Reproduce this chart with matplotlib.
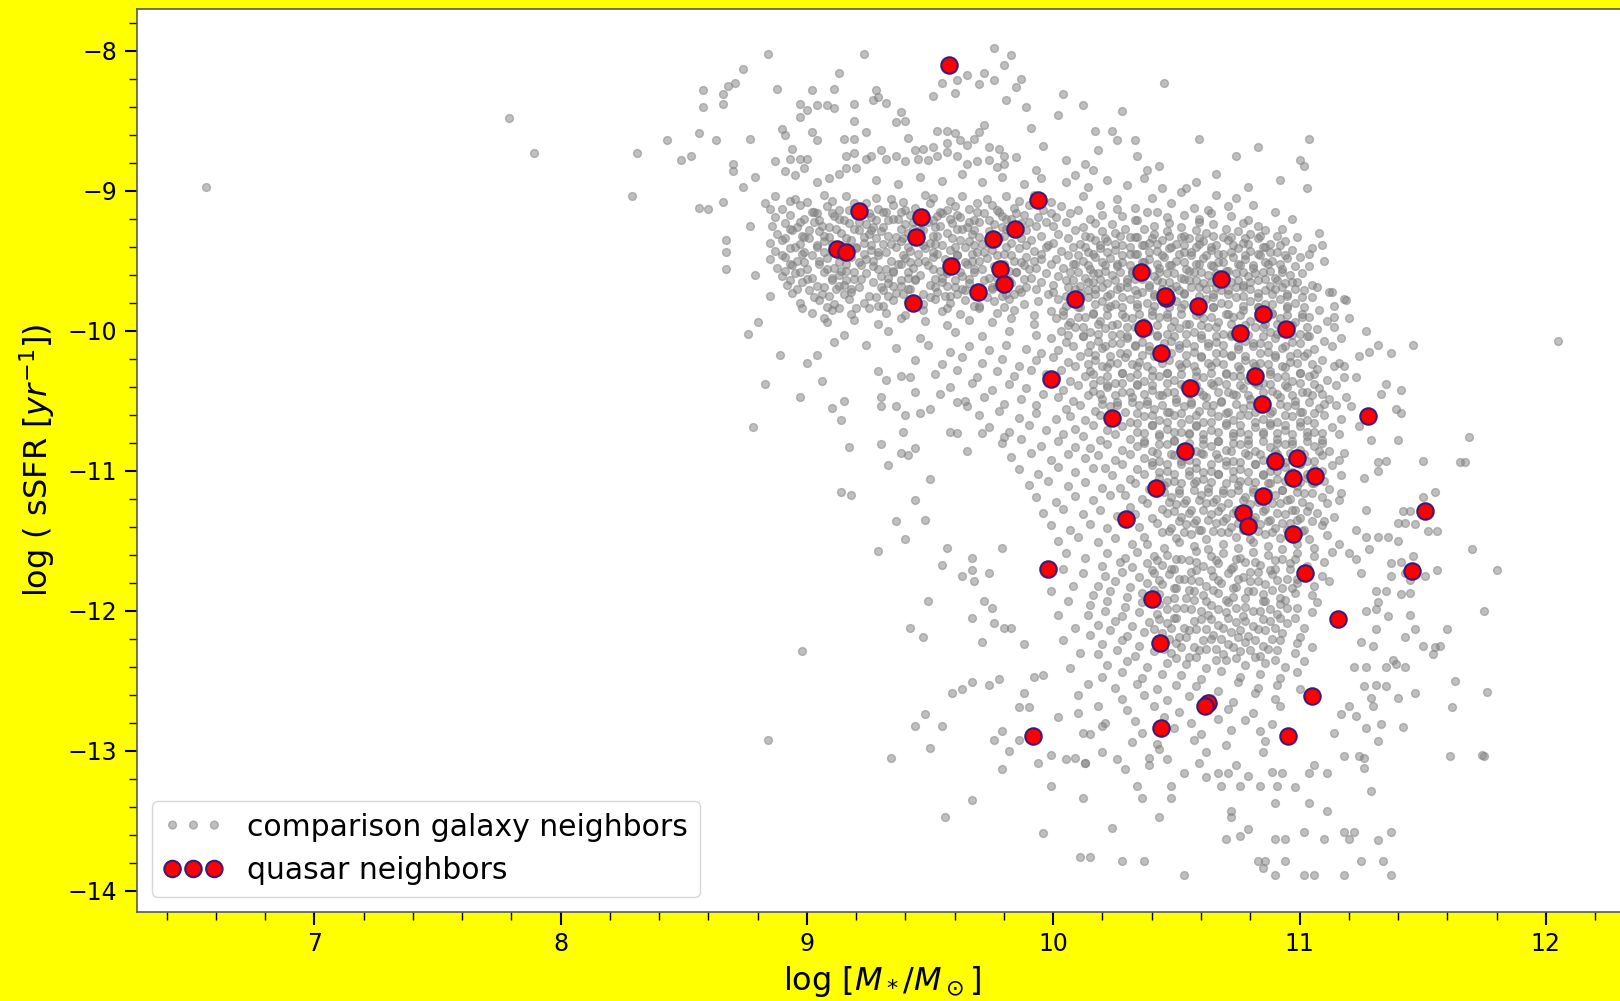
import matplotlib
matplotlib.use("Agg")
import matplotlib.pyplot as plt
from matplotlib.ticker import MultipleLocator
import numpy as np

# quasar neighbours: log stellar mass, log sSFR
qso_mass = [9.578, 9.937, 9.212, 9.463, 9.843, 9.443, 9.754, 9.124, 9.158, 9.585,
            9.782, 9.802, 9.694, 9.429, 10.087, 10.357, 10.683, 10.459, 10.455, 10.588,
            10.852, 10.364, 10.757, 10.947, 10.439, 9.992, 10.818, 10.554, 10.846, 10.240,
            11.279, 10.534, 10.900, 10.988, 10.974, 11.062, 10.419, 10.852, 10.297, 10.771,
            10.791, 10.974, 11.509, 9.978, 11.022, 11.455, 10.399, 11.157, 10.432, 11.049,
            10.629, 10.615, 10.439, 10.954, 9.917]
qso_ssfr = [-8.102, -9.067, -9.145, -9.186, -9.276, -9.328, -9.348, -9.419, -9.436, -9.538,
            -9.562, -9.669, -9.721, -9.800, -9.776, -9.578, -9.633, -9.769, -9.750, -9.823,
            -9.883, -9.983, -10.019, -9.990, -10.157, -10.347, -10.323, -10.407, -10.526, -10.621,
            -10.609, -10.859, -10.931, -10.907, -11.050, -11.038, -11.121, -11.181, -11.347, -11.300,
            -11.395, -11.455, -11.288, -11.705, -11.728, -11.716, -11.919, -12.062, -12.229, -12.609,
            -12.657, -12.681, -12.836, -12.895, -12.895]

# comparison galaxy neighbours, (mass, sSFR) pairs grouped by part of the cloud
gal_outliers = [
    (6.56, -8.97), (7.79, -8.48), (7.89, -8.73), (8.31, -8.73), (8.43, -8.64), (8.49, -8.78),
    (8.53, -8.75), (8.29, -9.04), (8.56, -8.59), (8.56, -9.12), (8.60, -9.13), (12.05, -10.07),
    (8.84, -12.92), (8.98, -12.29), (8.78, -10.69),
]

gal_halo = [
    (8.84, -8.02), (9.23, -8.02), (9.76, -7.98), (9.80, -8.10), (9.72, -8.16), (9.65, -8.17),
    (9.61, -8.21), (9.55, -8.23), (9.60, -8.30), (9.51, -8.32), (9.70, -8.24), (9.76, -8.21),
    (9.81, -8.35), (9.85, -8.26), (9.83, -8.03), (9.87, -8.20), (8.74, -8.13), (9.13, -8.16),
    (8.68, -8.25), (8.71, -8.23), (8.58, -8.28), (8.66, -8.31), (8.66, -8.38), (8.58, -8.40),
    (8.88, -8.27), (9.02, -8.28), (9.11, -8.27), (9.28, -8.28), (9.29, -8.33), (9.27, -8.35),
    (9.32, -8.37), (8.97, -8.38), (9.00, -8.42), (8.97, -8.47), (9.04, -8.39), (9.08, -8.39),
    (9.11, -8.41), (9.19, -8.38), (9.19, -8.50), (9.38, -8.44), (9.36, -8.51), (9.40, -8.50),
    (9.41, -8.62), (9.72, -8.53), (9.70, -8.58), (9.53, -8.57), (9.57, -8.57), (9.60, -8.59),
    (9.62, -8.64), (9.57, -8.66), (9.65, -8.67), (9.68, -8.63), (9.74, -8.69), (9.78, -8.70),
    (9.80, -8.75), (9.44, -8.71), (9.47, -8.70), (9.51, -8.69), (9.36, -8.75), (9.40, -8.79),
    (9.45, -8.77), (9.49, -8.78), (9.53, -8.75), (9.57, -8.72), (9.61, -8.75), (9.65, -8.81),
    (9.69, -8.79), (9.74, -8.78), (9.77, -8.83), (9.80, -8.81), (9.85, -8.76), (8.90, -8.56),
    (8.91, -8.60), (9.02, -8.58), (9.04, -8.64), (9.15, -8.63), (9.19, -8.63), (9.24, -8.58),
    (9.16, -8.75), (9.19, -8.73), (9.16, -8.84), (9.20, -8.84), (9.24, -8.77), (9.26, -8.75),
    (9.30, -8.71), (9.32, -8.77), (8.77, -8.63), (8.63, -8.64), (8.70, -8.81), (8.70, -8.86),
    (8.79, -8.90), (8.87, -8.79), (8.94, -8.70), (8.93, -8.77), (8.97, -8.77), (9.00, -8.77),
    (8.91, -8.86), (8.95, -8.89), (8.99, -8.84), (9.04, -8.94), (9.09, -8.91), (9.13, -8.88),
    (8.74, -8.97), (8.66, -9.08), (8.87, -9.04), (8.83, -9.09), (8.85, -9.13), (8.93, -9.07),
    (9.28, -8.92), (9.37, -8.95), (9.46, -8.90), (9.55, -8.93), (9.63, -8.88), (9.71, -8.94),
    (9.79, -8.90), (9.88, -8.95), (9.95, -8.91),
    (10.04, -8.31), (10.12, -8.39), (10.28, -8.43), (10.17, -8.57), (10.24, -8.57), (10.26, -8.64),
    (10.33, -8.64), (10.34, -8.75), (10.45, -8.23), (10.43, -8.82), (10.38, -8.85), (10.18, -8.71),
    (10.13, -8.81), (10.16, -8.85), (10.05, -8.78), (10.09, -8.89), (9.91, -8.55), (9.96, -8.68),
    (10.02, -8.46), (9.93, -8.85), (9.89, -8.40), (10.59, -8.63), (10.74, -8.75), (10.83, -8.69),
    (10.92, -8.92), (11.02, -8.82), (11.04, -8.63), (10.54, -8.98), (10.66, -8.88), (10.79, -8.97),
    (11.00, -8.78), (11.03, -8.98), (10.05, -8.94), (10.14, -8.97), (10.22, -8.92), (10.30, -8.96),
    (10.37, -8.91), (10.44, -8.98), (10.52, -9.01), (10.58, -8.94), (10.66, -9.03), (10.74, -9.05),
    (10.12, -9.04), (10.26, -9.06), (10.40, -9.05), (10.81, -9.10), (10.90, -9.15), (10.97, -9.20),
    (10.93, -9.27), (10.99, -9.33), (11.05, -9.41), (11.10, -9.50), (11.08, -9.30), (11.09, -9.39),
    (11.04, -9.45), (11.04, -9.54),
]

gal_band = [
    (8.95, -9.06), (9.00, -9.08), (9.07, -9.03), (9.10, -9.07), (9.16, -9.04), (9.24, -9.09),
    (9.28, -9.05), (9.34, -9.06), (9.39, -9.08), (9.48, -9.03), (9.51, -9.05), (9.58, -9.07),
    (9.63, -9.04), (9.69, -9.09), (9.73, -9.06), (9.81, -9.04), (9.86, -9.07), (9.92, -9.03),
    (9.99, -9.08),
    (8.90, -9.13), (8.97, -9.10), (9.02, -9.15), (9.08, -9.11), (9.13, -9.14), (9.19, -9.09),
    (9.22, -9.12), (9.29, -9.13), (9.35, -9.10), (9.38, -9.15), (9.44, -9.12), (9.50, -9.09),
    (9.57, -9.14), (9.60, -9.11), (9.66, -9.13), (9.75, -9.10), (9.78, -9.15), (9.84, -9.12),
    (9.90, -9.10), (9.96, -9.14),
    (8.87, -9.19), (8.93, -9.17), (8.99, -9.20), (9.04, -9.16), (9.11, -9.18), (9.15, -9.21),
    (9.20, -9.17), (9.26, -9.19), (9.31, -9.15), (9.37, -9.20), (9.42, -9.17), (9.46, -9.21),
    (9.53, -9.18), (9.55, -9.16), (9.62, -9.19), (9.68, -9.21), (9.72, -9.16), (9.79, -9.18),
    (9.83, -9.20), (9.88, -9.17), (9.94, -9.19), (9.99, -9.16),
    (8.86, -9.25), (8.91, -9.23), (8.96, -9.26), (9.03, -9.22), (9.06, -9.25), (9.12, -9.27),
    (9.17, -9.23), (9.24, -9.24), (9.27, -9.26), (9.33, -9.21), (9.40, -9.24), (9.43, -9.27),
    (9.49, -9.22), (9.54, -9.25), (9.59, -9.23), (9.65, -9.26), (9.70, -9.22), (9.76, -9.24),
    (9.81, -9.27), (9.87, -9.23), (9.93, -9.25), (9.97, -9.22),
    (8.88, -9.31), (8.94, -9.28), (8.98, -9.32), (9.05, -9.29), (9.09, -9.33), (9.14, -9.30),
    (9.21, -9.28), (9.25, -9.31), (9.30, -9.29), (9.36, -9.33), (9.41, -9.30), (9.47, -9.28),
    (9.51, -9.32), (9.57, -9.30), (9.61, -9.27), (9.67, -9.31), (9.74, -9.29), (9.77, -9.33),
    (9.85, -9.30), (9.89, -9.28), (9.95, -9.32),
    (8.85, -9.37), (8.90, -9.35), (8.97, -9.38), (9.01, -9.34), (9.07, -9.36), (9.12, -9.39),
    (9.18, -9.35), (9.23, -9.37), (9.28, -9.34), (9.34, -9.38), (9.38, -9.36), (9.45, -9.33),
    (9.50, -9.37), (9.55, -9.39), (9.62, -9.35), (9.66, -9.36), (9.71, -9.38), (9.78, -9.34),
    (9.83, -9.37), (9.91, -9.35), (9.98, -9.39),
    (8.87, -9.43), (8.93, -9.41), (8.99, -9.44), (9.04, -9.40), (9.10, -9.43), (9.15, -9.45),
    (9.20, -9.41), (9.26, -9.42), (9.32, -9.44), (9.36, -9.40), (9.42, -9.43), (9.48, -9.41),
    (9.53, -9.45), (9.58, -9.42), (9.64, -9.40), (9.69, -9.44), (9.75, -9.42), (9.80, -9.45),
    (9.86, -9.41), (9.92, -9.43), (9.97, -9.40),
    (8.85, -9.49), (8.91, -9.47), (8.96, -9.50), (9.02, -9.46), (9.08, -9.48), (9.13, -9.51),
    (9.18, -9.47), (9.24, -9.49), (9.29, -9.46), (9.34, -9.50), (9.40, -9.48), (9.45, -9.51),
    (9.51, -9.47), (9.56, -9.49), (9.61, -9.46), (9.67, -9.50), (9.73, -9.48), (9.77, -9.46),
    (9.84, -9.50), (9.89, -9.47), (9.95, -9.49),
    (8.88, -9.55), (8.94, -9.53), (9.00, -9.56), (9.05, -9.52), (9.11, -9.55), (9.16, -9.57),
    (9.22, -9.53), (9.27, -9.54), (9.32, -9.56), (9.38, -9.52), (9.43, -9.55), (9.49, -9.53),
    (9.54, -9.57), (9.59, -9.54), (9.65, -9.52), (9.71, -9.56), (9.76, -9.54), (9.82, -9.57),
    (9.88, -9.53), (9.93, -9.55), (9.99, -9.52),
    (8.90, -9.61), (8.95, -9.59), (9.02, -9.62), (9.07, -9.58), (9.13, -9.60), (9.19, -9.63),
    (9.24, -9.59), (9.30, -9.61), (9.35, -9.58), (9.41, -9.62), (9.46, -9.60), (9.52, -9.63),
    (9.57, -9.59), (9.63, -9.61), (9.68, -9.58), (9.74, -9.62), (9.79, -9.60), (9.85, -9.58),
    (9.91, -9.62), (9.97, -9.59),
    (8.92, -9.67), (8.98, -9.65), (9.04, -9.68), (9.10, -9.64), (9.15, -9.67), (9.21, -9.69),
    (9.27, -9.65), (9.33, -9.66), (9.38, -9.68), (9.44, -9.64), (9.50, -9.67), (9.55, -9.65),
    (9.60, -9.69), (9.66, -9.66), (9.72, -9.64), (9.77, -9.68), (9.83, -9.66), (9.89, -9.69),
    (9.95, -9.65),
    (8.94, -9.73), (9.01, -9.71), (9.06, -9.74), (9.12, -9.70), (9.18, -9.72), (9.25, -9.75),
    (9.31, -9.71), (9.36, -9.73), (9.42, -9.70), (9.47, -9.74), (9.53, -9.72), (9.58, -9.75),
    (9.64, -9.71), (9.70, -9.73), (9.75, -9.70), (9.81, -9.74), (9.87, -9.72), (9.93, -9.70),
    (9.98, -9.74),
    (8.97, -9.80), (9.05, -9.78), (9.11, -9.81), (9.17, -9.77), (9.23, -9.80), (9.29, -9.82),
    (9.35, -9.78), (9.41, -9.79), (9.47, -9.81), (9.52, -9.77), (9.58, -9.80), (9.64, -9.78),
    (9.70, -9.82), (9.76, -9.79), (9.82, -9.77), (9.88, -9.81), (9.94, -9.79),
    (9.02, -9.87), (9.10, -9.85), (9.18, -9.88), (9.25, -9.84), (9.32, -9.87), (9.40, -9.89),
    (9.47, -9.85), (9.55, -9.86), (9.62, -9.88), (9.70, -9.84), (9.77, -9.87), (9.84, -9.85),
    (9.92, -9.89), (9.99, -9.86),
    (9.08, -9.94), (9.19, -9.92), (9.29, -9.95), (9.38, -9.91), (9.48, -9.93), (9.57, -9.96),
    (9.66, -9.92), (9.75, -9.94), (9.83, -9.91), (9.92, -9.95),
    (9.15, -10.03), (9.33, -10.00), (9.46, -10.05), (9.60, -10.01), (9.71, -10.04), (9.82, -10.00),
    (9.93, -10.03),
]

# the densest part of the star-forming band, between the rows above
gal_band_fill = [
    (9.03, -9.15), (9.10, -9.16), (9.17, -9.14), (9.25, -9.16), (9.32, -9.15), (9.40, -9.14),
    (9.47, -9.16), (9.54, -9.15), (9.61, -9.17), (9.69, -9.15), (9.77, -9.14), (9.85, -9.16),
    (8.97, -9.22), (9.05, -9.21), (9.13, -9.20), (9.21, -9.22), (9.28, -9.21), (9.35, -9.20),
    (9.43, -9.22), (9.51, -9.21), (9.58, -9.20), (9.66, -9.22), (9.74, -9.21), (9.81, -9.20),
    (9.90, -9.22),
    (8.93, -9.27), (9.01, -9.28), (9.09, -9.26), (9.19, -9.27), (9.26, -9.28), (9.31, -9.26),
    (9.38, -9.27), (9.46, -9.28), (9.52, -9.26), (9.63, -9.27), (9.68, -9.28), (9.79, -9.26),
    (9.84, -9.27),
    (8.91, -9.34), (8.99, -9.33), (9.07, -9.32), (9.16, -9.34), (9.23, -9.33), (9.33, -9.32),
    (9.39, -9.34), (9.44, -9.33), (9.53, -9.32), (9.59, -9.34), (9.70, -9.33), (9.80, -9.32),
    (9.87, -9.34),
    (8.95, -9.40), (9.04, -9.39), (9.10, -9.38), (9.20, -9.40), (9.26, -9.39), (9.31, -9.38),
    (9.41, -9.40), (9.47, -9.39), (9.52, -9.38), (9.60, -9.40), (9.68, -9.39), (9.74, -9.38),
    (9.81, -9.40), (9.89, -9.39),
    (8.90, -9.46), (8.98, -9.45), (9.07, -9.44), (9.13, -9.46), (9.23, -9.45), (9.29, -9.44),
    (9.39, -9.46), (9.45, -9.45), (9.51, -9.44), (9.61, -9.46), (9.67, -9.45), (9.72, -9.44),
    (9.83, -9.46), (9.95, -9.45),
    (8.93, -9.52), (8.99, -9.51), (9.05, -9.50), (9.16, -9.52), (9.21, -9.51), (9.27, -9.50),
    (9.37, -9.52), (9.42, -9.51), (9.48, -9.50), (9.58, -9.52), (9.64, -9.51), (9.70, -9.50),
    (9.80, -9.52), (9.87, -9.51), (9.92, -9.50),
    (8.91, -9.57), (8.97, -9.58), (9.08, -9.56), (9.14, -9.57), (9.19, -9.58), (9.29, -9.56),
    (9.35, -9.57), (9.41, -9.58), (9.51, -9.56), (9.57, -9.57), (9.62, -9.58), (9.68, -9.56),
    (9.79, -9.57), (9.85, -9.58), (9.90, -9.56),
    (8.93, -9.64), (9.00, -9.63), (9.10, -9.62), (9.16, -9.64), (9.22, -9.63), (9.33, -9.62),
    (9.38, -9.64), (9.44, -9.63), (9.55, -9.62), (9.60, -9.64), (9.66, -9.63), (9.77, -9.62),
    (9.82, -9.64), (9.88, -9.63),
    (8.96, -9.70), (9.07, -9.69), (9.13, -9.68), (9.18, -9.70), (9.30, -9.69), (9.35, -9.68),
    (9.41, -9.70), (9.52, -9.69), (9.57, -9.68), (9.63, -9.70), (9.75, -9.69), (9.80, -9.68),
    (9.86, -9.70),
    (9.03, -9.76), (9.09, -9.75), (9.15, -9.74), (9.28, -9.76), (9.33, -9.75), (9.39, -9.74),
    (9.50, -9.76), (9.56, -9.75), (9.61, -9.74), (9.73, -9.76), (9.79, -9.75), (9.84, -9.74),
    (9.08, -9.83), (9.20, -9.84), (9.31, -9.82), (9.44, -9.83), (9.57, -9.84), (9.68, -9.82),
    (9.80, -9.83),
]

gal_core = [
    (10.03, -9.11), (10.10, -9.14), (10.19, -9.10), (10.26, -9.13), (10.33, -9.12), (10.42, -9.15),
    (10.48, -9.09), (10.57, -9.12), (10.63, -9.14), (10.71, -9.11),
    (10.01, -9.19), (10.07, -9.16), (10.15, -9.20), (10.20, -9.17), (10.28, -9.18), (10.33, -9.21),
    (10.38, -9.15), (10.46, -9.19), (10.53, -9.17), (10.59, -9.20), (10.64, -9.16), (10.72, -9.18),
    (10.79, -9.21),
    (10.00, -9.25), (10.05, -9.22), (10.12, -9.26), (10.17, -9.23), (10.24, -9.24), (10.29, -9.27),
    (10.34, -9.21), (10.41, -9.25), (10.47, -9.23), (10.52, -9.26), (10.59, -9.22), (10.65, -9.24),
    (10.70, -9.27), (10.77, -9.23), (10.83, -9.25),
    (10.02, -9.31), (10.09, -9.28), (10.13, -9.32), (10.20, -9.29), (10.25, -9.30), (10.31, -9.33),
    (10.37, -9.27), (10.41, -9.31), (10.46, -9.29), (10.53, -9.32), (10.58, -9.28), (10.62, -9.30),
    (10.69, -9.33), (10.75, -9.29), (10.80, -9.31), (10.86, -9.28), (10.91, -9.32),
    (10.00, -9.37), (10.06, -9.34), (10.11, -9.38), (10.17, -9.35), (10.22, -9.36), (10.28, -9.39),
    (10.33, -9.33), (10.39, -9.37), (10.44, -9.35), (10.50, -9.38), (10.55, -9.34), (10.61, -9.36),
    (10.66, -9.39), (10.71, -9.35), (10.77, -9.37), (10.83, -9.34), (10.88, -9.38), (10.94, -9.36),
    (10.03, -9.43), (10.08, -9.40), (10.14, -9.44), (10.19, -9.41), (10.25, -9.42), (10.31, -9.45),
    (10.36, -9.39), (10.42, -9.43), (10.47, -9.41), (10.53, -9.44), (10.58, -9.40), (10.64, -9.42),
    (10.69, -9.45), (10.75, -9.41), (10.80, -9.43), (10.86, -9.40), (10.91, -9.44), (10.97, -9.42),
    (10.01, -9.49), (10.06, -9.46), (10.12, -9.50), (10.17, -9.47), (10.23, -9.48), (10.28, -9.51),
    (10.34, -9.45), (10.39, -9.49), (10.45, -9.47), (10.50, -9.50), (10.56, -9.46), (10.61, -9.48),
    (10.67, -9.51), (10.73, -9.47), (10.78, -9.49), (10.84, -9.46), (10.89, -9.50), (10.95, -9.48),
    (11.00, -9.47),
    (10.04, -9.55), (10.09, -9.52), (10.15, -9.56), (10.21, -9.53), (10.26, -9.54), (10.32, -9.57),
    (10.37, -9.51), (10.43, -9.55), (10.48, -9.53), (10.54, -9.56), (10.59, -9.52), (10.65, -9.54),
    (10.70, -9.57), (10.76, -9.53), (10.81, -9.55), (10.87, -9.52), (10.93, -9.56), (10.98, -9.54),
    (10.02, -9.61), (10.07, -9.58), (10.13, -9.62), (10.18, -9.59), (10.24, -9.60), (10.30, -9.63),
    (10.35, -9.57), (10.41, -9.61), (10.46, -9.59), (10.52, -9.62), (10.57, -9.58), (10.63, -9.60),
    (10.68, -9.63), (10.74, -9.59), (10.79, -9.61), (10.85, -9.58), (10.90, -9.62), (10.96, -9.60),
    (11.01, -9.59),
    (10.00, -9.67), (10.05, -9.64), (10.11, -9.68), (10.16, -9.65), (10.22, -9.66), (10.27, -9.69),
    (10.33, -9.63), (10.39, -9.67), (10.44, -9.65), (10.50, -9.68), (10.55, -9.64), (10.61, -9.66),
    (10.66, -9.69), (10.72, -9.65), (10.77, -9.67), (10.83, -9.64), (10.88, -9.68), (10.94, -9.66),
    (10.99, -9.65), (11.05, -9.67),
    (10.00, -9.72), (10.06, -9.69), (10.11, -9.73), (10.17, -9.70), (10.23, -9.74), (10.30, -9.69),
    (10.36, -9.72), (10.41, -9.74), (10.48, -9.70), (10.53, -9.73), (10.59, -9.69), (10.65, -9.74),
    (10.71, -9.71), (10.77, -9.69), (10.83, -9.73), (10.90, -9.70), (10.95, -9.74), (11.02, -9.71),
    (11.07, -9.69),
    (10.02, -9.77), (10.08, -9.80), (10.14, -9.76), (10.20, -9.79), (10.25, -9.81), (10.31, -9.77),
    (10.38, -9.80), (10.44, -9.76), (10.50, -9.79), (10.57, -9.81), (10.62, -9.77), (10.68, -9.80),
    (10.74, -9.76), (10.80, -9.79), (10.86, -9.81), (10.92, -9.77), (10.98, -9.80), (11.05, -9.76),
    (10.04, -9.86), (10.10, -9.83), (10.16, -9.87), (10.22, -9.84), (10.28, -9.88), (10.34, -9.83),
    (10.40, -9.86), (10.46, -9.88), (10.52, -9.84), (10.59, -9.87), (10.65, -9.83), (10.71, -9.88),
    (10.77, -9.85), (10.83, -9.83), (10.89, -9.87), (10.95, -9.84), (11.01, -9.88), (11.08, -9.85),
    (10.01, -9.91), (10.07, -9.94), (10.13, -9.90), (10.19, -9.93), (10.26, -9.95), (10.32, -9.91),
    (10.37, -9.94), (10.43, -9.90), (10.49, -9.93), (10.55, -9.95), (10.61, -9.91), (10.67, -9.94),
    (10.73, -9.90), (10.80, -9.93), (10.86, -9.95), (10.92, -9.91), (10.98, -9.94), (11.04, -9.90),
    (11.11, -9.93),
    (10.03, -10.00), (10.09, -9.97), (10.15, -10.01), (10.21, -9.98), (10.27, -10.02), (10.33, -9.97),
    (10.39, -10.00), (10.46, -10.02), (10.51, -9.98), (10.57, -10.01), (10.63, -9.97), (10.69, -10.02),
    (10.75, -9.99), (10.82, -9.97), (10.88, -10.01), (10.94, -9.98), (11.00, -10.02), (11.07, -9.99),
    (11.14, -9.97),
    (9.99, -10.05), (10.05, -10.08), (10.12, -10.04), (10.18, -10.07), (10.24, -10.09), (10.30, -10.05),
    (10.36, -10.08), (10.42, -10.04), (10.48, -10.07), (10.54, -10.09), (10.60, -10.05), (10.66, -10.08),
    (10.72, -10.04), (10.78, -10.07), (10.84, -10.09), (10.90, -10.05), (10.97, -10.08), (11.03, -10.04),
    (11.10, -10.07), (11.17, -10.05),
    (10.02, -10.14), (10.08, -10.11), (10.14, -10.15), (10.20, -10.12), (10.27, -10.16), (10.33, -10.11),
    (10.39, -10.14), (10.45, -10.16), (10.51, -10.12), (10.57, -10.15), (10.63, -10.11), (10.69, -10.16),
    (10.75, -10.13), (10.81, -10.11), (10.87, -10.15), (10.93, -10.12), (10.99, -10.16), (11.06, -10.13),
    (11.13, -10.11),
    (10.00, -10.19), (10.06, -10.22), (10.11, -10.18), (10.17, -10.21), (10.23, -10.23), (10.29, -10.19),
    (10.35, -10.22), (10.41, -10.18), (10.47, -10.21), (10.54, -10.23), (10.60, -10.19), (10.66, -10.22),
    (10.72, -10.18), (10.78, -10.21), (10.84, -10.23), (10.90, -10.19), (10.96, -10.22), (11.02, -10.18),
    (11.09, -10.21), (11.16, -10.23),
    (10.03, -10.28), (10.09, -10.25), (10.15, -10.29), (10.22, -10.26), (10.28, -10.30), (10.34, -10.25),
    (10.40, -10.28), (10.46, -10.30), (10.52, -10.26), (10.58, -10.29), (10.64, -10.25), (10.70, -10.30),
    (10.76, -10.27), (10.82, -10.25), (10.88, -10.29), (10.94, -10.26), (11.00, -10.30), (11.07, -10.27),
    (11.14, -10.25),
    (10.01, -10.33), (10.07, -10.36), (10.13, -10.32), (10.19, -10.35), (10.25, -10.37), (10.31, -10.33),
    (10.37, -10.36), (10.43, -10.32), (10.49, -10.35), (10.55, -10.37), (10.61, -10.33), (10.67, -10.36),
    (10.73, -10.32), (10.79, -10.35), (10.85, -10.37), (10.91, -10.33), (10.97, -10.36), (11.04, -10.32),
    (11.11, -10.35), (11.18, -10.33),
    (10.04, -10.42), (10.10, -10.39), (10.16, -10.43), (10.22, -10.40), (10.28, -10.44), (10.34, -10.39),
    (10.40, -10.42), (10.46, -10.44), (10.53, -10.40), (10.59, -10.43), (10.65, -10.39), (10.71, -10.44),
    (10.77, -10.41), (10.83, -10.39), (10.89, -10.43), (10.95, -10.40), (11.01, -10.44), (11.08, -10.41),
    (11.15, -10.39),
    (10.02, -10.47), (10.08, -10.50), (10.14, -10.46), (10.20, -10.49), (10.26, -10.51), (10.32, -10.47),
    (10.38, -10.50), (10.44, -10.46), (10.50, -10.49), (10.56, -10.51), (10.62, -10.47), (10.68, -10.50),
    (10.74, -10.46), (10.80, -10.49), (10.86, -10.51), (10.92, -10.47), (10.98, -10.50), (11.05, -10.46),
    (11.12, -10.49), (11.19, -10.47),
    (10.05, -10.56), (10.11, -10.53), (10.17, -10.57), (10.23, -10.54), (10.29, -10.58), (10.35, -10.53),
    (10.41, -10.56), (10.47, -10.58), (10.53, -10.54), (10.59, -10.57), (10.65, -10.53), (10.71, -10.58),
    (10.77, -10.55), (10.83, -10.53), (10.89, -10.57), (10.95, -10.54), (11.01, -10.58), (11.08, -10.55),
    (11.15, -10.53),
    (10.07, -10.61), (10.13, -10.64), (10.19, -10.60), (10.25, -10.63), (10.31, -10.65), (10.37, -10.61),
    (10.43, -10.64), (10.49, -10.60), (10.55, -10.63), (10.61, -10.65), (10.67, -10.61), (10.73, -10.64),
    (10.79, -10.60), (10.85, -10.63), (10.91, -10.65), (10.97, -10.61), (11.03, -10.64), (11.10, -10.60),
    (11.17, -10.63),
    (10.09, -10.70), (10.16, -10.67), (10.22, -10.71), (10.28, -10.68), (10.34, -10.72), (10.40, -10.67),
    (10.46, -10.70), (10.52, -10.72), (10.58, -10.68), (10.64, -10.71), (10.70, -10.67), (10.76, -10.72),
    (10.82, -10.69), (10.88, -10.67), (10.94, -10.71), (11.00, -10.68), (11.06, -10.72), (11.13, -10.69),
    (10.12, -10.75), (10.19, -10.78), (10.25, -10.74), (10.31, -10.77), (10.37, -10.79), (10.43, -10.75),
    (10.49, -10.78), (10.55, -10.74), (10.61, -10.77), (10.67, -10.79), (10.73, -10.75), (10.79, -10.78),
    (10.85, -10.74), (10.91, -10.77), (10.97, -10.79), (11.03, -10.75), (11.09, -10.78), (11.16, -10.74),
    (10.15, -10.84), (10.22, -10.81), (10.28, -10.85), (10.34, -10.82), (10.40, -10.86), (10.46, -10.81),
    (10.52, -10.84), (10.58, -10.86), (10.64, -10.82), (10.70, -10.85), (10.76, -10.81), (10.82, -10.86),
    (10.88, -10.83), (10.94, -10.81), (11.00, -10.85), (11.06, -10.82), (11.12, -10.86),
    (10.18, -10.89), (10.25, -10.92), (10.31, -10.88), (10.37, -10.91), (10.43, -10.93), (10.49, -10.89),
    (10.55, -10.92), (10.61, -10.88), (10.67, -10.91), (10.73, -10.93), (10.79, -10.89), (10.85, -10.92),
    (10.91, -10.88), (10.97, -10.91), (11.03, -10.93), (11.09, -10.89), (11.16, -10.92),
    (10.21, -10.98), (10.28, -10.95), (10.34, -10.99), (10.40, -10.96), (10.46, -11.00), (10.52, -10.95),
    (10.58, -10.98), (10.64, -11.00), (10.70, -10.96), (10.76, -10.99), (10.82, -10.95), (10.88, -11.00),
    (10.94, -10.97), (11.00, -10.95), (11.06, -10.99), (11.13, -10.96),
    (10.24, -11.03), (10.31, -11.06), (10.37, -11.02), (10.43, -11.05), (10.49, -11.07), (10.55, -11.03),
    (10.61, -11.06), (10.67, -11.02), (10.73, -11.05), (10.79, -11.07), (10.85, -11.03), (10.91, -11.06),
    (10.97, -11.02), (11.03, -11.05), (11.10, -11.07), (11.17, -11.03),
    (10.27, -11.12), (10.33, -11.09), (10.39, -11.13), (10.45, -11.10), (10.51, -11.14), (10.57, -11.09),
    (10.63, -11.12), (10.69, -11.14), (10.75, -11.10), (10.81, -11.13), (10.87, -11.09), (10.93, -11.14),
    (10.99, -11.11), (11.05, -11.09), (11.12, -11.13),
    (10.29, -11.17), (10.36, -11.20), (10.42, -11.16), (10.48, -11.19), (10.54, -11.21), (10.60, -11.17),
    (10.66, -11.20), (10.72, -11.16), (10.78, -11.19), (10.84, -11.21), (10.90, -11.17), (10.96, -11.20),
    (11.02, -11.16), (11.09, -11.19), (11.16, -11.21),
    (10.31, -11.26), (10.38, -11.23), (10.44, -11.27), (10.50, -11.24), (10.56, -11.28), (10.62, -11.23),
    (10.68, -11.26), (10.74, -11.28), (10.80, -11.24), (10.86, -11.27), (10.92, -11.23), (10.98, -11.28),
    (11.04, -11.25), (11.11, -11.23),
    (10.33, -11.31), (10.40, -11.34), (10.46, -11.30), (10.52, -11.33), (10.58, -11.35), (10.64, -11.31),
    (10.70, -11.34), (10.76, -11.30), (10.82, -11.33), (10.88, -11.35), (10.94, -11.31), (11.00, -11.34),
    (11.07, -11.30), (11.14, -11.33),
    (10.35, -11.40), (10.42, -11.37), (10.48, -11.41), (10.54, -11.38), (10.60, -11.42), (10.66, -11.37),
    (10.72, -11.40), (10.78, -11.42), (10.84, -11.38), (10.90, -11.41), (10.96, -11.37), (11.02, -11.42),
    (11.09, -11.39),
    (10.37, -11.47), (10.44, -11.44), (10.50, -11.48), (10.56, -11.45), (10.62, -11.49), (10.68, -11.44),
    (10.74, -11.47), (10.80, -11.49), (10.86, -11.45), (10.92, -11.48), (10.98, -11.44), (11.04, -11.49),
    (11.11, -11.46),
    (10.38, -11.52), (10.45, -11.55), (10.51, -11.51), (10.57, -11.54), (10.63, -11.56), (10.69, -11.52),
    (10.75, -11.55), (10.81, -11.51), (10.87, -11.54), (10.93, -11.56), (10.99, -11.52), (11.06, -11.55),
]

# the darkest part of the main clump, between the rows above
gal_core_fill = [
    (10.15, -9.33), (10.21, -9.34), (10.27, -9.32), (10.34, -9.33), (10.40, -9.34), (10.47, -9.32),
    (10.52, -9.33), (10.59, -9.34), (10.65, -9.32), (10.72, -9.33), (10.78, -9.34), (10.84, -9.32),
    (10.13, -9.40), (10.19, -9.39), (10.25, -9.38), (10.31, -9.40), (10.37, -9.39), (10.42, -9.38),
    (10.48, -9.40), (10.53, -9.39), (10.59, -9.38), (10.64, -9.40), (10.73, -9.39), (10.79, -9.38),
    (10.85, -9.40), (10.92, -9.39),
    (10.10, -9.46), (10.16, -9.45), (10.22, -9.44), (10.28, -9.46), (10.33, -9.45), (10.39, -9.44),
    (10.44, -9.46), (10.51, -9.45), (10.56, -9.44), (10.62, -9.46), (10.67, -9.45), (10.72, -9.44),
    (10.78, -9.46), (10.83, -9.45), (10.88, -9.44), (10.94, -9.46),
    (10.08, -9.52), (10.14, -9.53), (10.20, -9.51), (10.26, -9.52), (10.31, -9.53), (10.36, -9.51),
    (10.42, -9.52), (10.47, -9.53), (10.53, -9.51), (10.58, -9.52), (10.64, -9.53), (10.69, -9.51),
    (10.75, -9.52), (10.81, -9.53), (10.86, -9.51), (10.92, -9.52),
    (10.10, -9.58), (10.16, -9.59), (10.21, -9.57), (10.27, -9.58), (10.32, -9.59), (10.38, -9.57),
    (10.43, -9.58), (10.49, -9.59), (10.55, -9.57), (10.60, -9.58), (10.66, -9.59), (10.71, -9.57),
    (10.77, -9.58), (10.82, -9.59), (10.88, -9.57), (10.93, -9.58),
    (10.08, -9.64), (10.14, -9.65), (10.19, -9.63), (10.25, -9.64), (10.30, -9.65), (10.36, -9.63),
    (10.42, -9.64), (10.47, -9.65), (10.53, -9.63), (10.58, -9.64), (10.64, -9.65), (10.70, -9.63),
    (10.75, -9.64), (10.80, -9.65), (10.86, -9.63), (10.91, -9.64), (10.97, -9.65),
    (10.09, -9.70), (10.14, -9.71), (10.20, -9.69), (10.26, -9.70), (10.33, -9.71), (10.39, -9.69),
    (10.44, -9.70), (10.51, -9.71), (10.56, -9.69), (10.62, -9.70), (10.68, -9.71), (10.74, -9.69),
    (10.80, -9.70), (10.86, -9.71), (10.93, -9.69), (10.98, -9.70),
    (10.05, -9.75), (10.11, -9.76), (10.17, -9.74), (10.22, -9.75), (10.28, -9.76), (10.34, -9.74),
    (10.41, -9.75), (10.47, -9.76), (10.53, -9.74), (10.59, -9.75), (10.65, -9.76), (10.71, -9.74),
    (10.77, -9.75), (10.83, -9.76), (10.89, -9.74), (10.95, -9.75), (11.01, -9.76),
    (10.05, -9.82), (10.11, -9.83), (10.17, -9.81), (10.23, -9.82), (10.28, -9.83), (10.34, -9.81),
    (10.41, -9.82), (10.47, -9.83), (10.53, -9.81), (10.60, -9.82), (10.65, -9.83), (10.71, -9.81),
    (10.77, -9.82), (10.83, -9.83), (10.89, -9.81), (10.95, -9.82), (11.02, -9.83),
    (10.04, -9.89), (10.10, -9.90), (10.16, -9.88), (10.22, -9.89), (10.29, -9.90), (10.35, -9.88),
    (10.40, -9.89), (10.46, -9.90), (10.52, -9.88), (10.58, -9.89), (10.64, -9.90), (10.70, -9.88),
    (10.76, -9.89), (10.83, -9.90), (10.89, -9.88), (10.95, -9.89), (11.01, -9.90),
    (10.06, -9.96), (10.12, -9.97), (10.18, -9.95), (10.24, -9.96), (10.30, -9.97), (10.36, -9.95),
    (10.42, -9.96), (10.48, -9.97), (10.54, -9.95), (10.60, -9.96), (10.66, -9.97), (10.72, -9.95),
    (10.78, -9.96), (10.85, -9.97), (10.91, -9.95), (10.97, -9.96), (11.03, -9.97),
    (10.06, -10.03), (10.12, -10.04), (10.18, -10.02), (10.24, -10.03), (10.30, -10.04), (10.36, -10.02),
    (10.42, -10.03), (10.49, -10.04), (10.54, -10.02), (10.60, -10.03), (10.66, -10.04), (10.72, -10.02),
    (10.79, -10.03), (10.85, -10.04), (10.91, -10.02), (10.97, -10.03), (11.04, -10.04),
    (10.15, -10.10), (10.21, -10.11), (10.27, -10.09), (10.33, -10.10), (10.39, -10.11), (10.45, -10.09),
    (10.51, -10.10), (10.57, -10.11), (10.63, -10.09), (10.69, -10.10), (10.75, -10.11), (10.81, -10.09),
    (10.87, -10.10), (10.94, -10.11), (11.00, -10.09),
    (10.17, -10.17), (10.23, -10.18), (10.30, -10.16), (10.36, -10.17), (10.42, -10.18), (10.48, -10.16),
    (10.54, -10.17), (10.60, -10.18), (10.66, -10.16), (10.72, -10.17), (10.78, -10.18), (10.84, -10.16),
    (10.90, -10.17), (10.96, -10.18), (11.03, -10.16),
    (10.14, -10.24), (10.20, -10.25), (10.26, -10.23), (10.32, -10.24), (10.38, -10.25), (10.44, -10.23),
    (10.51, -10.24), (10.57, -10.25), (10.63, -10.23), (10.69, -10.24), (10.75, -10.25), (10.81, -10.23),
    (10.87, -10.24), (10.93, -10.25), (10.99, -10.23), (11.05, -10.24),
    (10.16, -10.31), (10.22, -10.32), (10.28, -10.30), (10.34, -10.31), (10.40, -10.32), (10.46, -10.30),
    (10.52, -10.31), (10.58, -10.32), (10.64, -10.30), (10.70, -10.31), (10.76, -10.32), (10.82, -10.30),
    (10.88, -10.31), (10.94, -10.32), (11.00, -10.30), (11.06, -10.31),
    (10.16, -10.38), (10.22, -10.39), (10.28, -10.37), (10.34, -10.38), (10.40, -10.39), (10.46, -10.37),
    (10.52, -10.38), (10.58, -10.39), (10.64, -10.37), (10.70, -10.38), (10.76, -10.39), (10.82, -10.37),
    (10.88, -10.38), (10.94, -10.39), (11.00, -10.37), (11.06, -10.38),
    (10.19, -10.45), (10.25, -10.46), (10.31, -10.44), (10.37, -10.45), (10.43, -10.46), (10.49, -10.44),
    (10.55, -10.45), (10.61, -10.46), (10.67, -10.44), (10.73, -10.45), (10.79, -10.46), (10.85, -10.44),
    (10.91, -10.45), (10.97, -10.46), (11.03, -10.44), (11.09, -10.45),
    (10.20, -10.52), (10.26, -10.53), (10.32, -10.51), (10.38, -10.52), (10.44, -10.53), (10.50, -10.51),
    (10.56, -10.52), (10.62, -10.53), (10.68, -10.51), (10.74, -10.52), (10.80, -10.53), (10.86, -10.51),
    (10.92, -10.52), (10.98, -10.53), (11.04, -10.51), (11.10, -10.52),
    (10.34, -10.59), (10.40, -10.60), (10.46, -10.58), (10.52, -10.59), (10.58, -10.60), (10.64, -10.58),
    (10.70, -10.59), (10.76, -10.60), (10.82, -10.58), (10.88, -10.59), (10.94, -10.60), (11.00, -10.58),
    (11.06, -10.59),
    (10.34, -10.66), (10.40, -10.67), (10.46, -10.65), (10.52, -10.66), (10.58, -10.67), (10.64, -10.65),
    (10.70, -10.66), (10.76, -10.67), (10.82, -10.65), (10.88, -10.66), (10.94, -10.67), (11.00, -10.65),
    (11.06, -10.66),
    (10.37, -10.73), (10.43, -10.74), (10.49, -10.72), (10.55, -10.73), (10.61, -10.74), (10.67, -10.72),
    (10.73, -10.73), (10.79, -10.74), (10.85, -10.72), (10.91, -10.73), (10.97, -10.74), (11.03, -10.72),
    (11.09, -10.73),
    (10.37, -10.80), (10.43, -10.81), (10.49, -10.79), (10.55, -10.80), (10.61, -10.81), (10.67, -10.79),
    (10.73, -10.80), (10.79, -10.81), (10.85, -10.79), (10.91, -10.80), (10.97, -10.81), (11.03, -10.79),
    (11.09, -10.80),
    (10.42, -10.87), (10.48, -10.88), (10.54, -10.86), (10.60, -10.87), (10.66, -10.88), (10.72, -10.86),
    (10.78, -10.87), (10.84, -10.88), (10.90, -10.86), (10.96, -10.87), (11.02, -10.88), (11.08, -10.86),
    (10.40, -10.94), (10.46, -10.95), (10.52, -10.93), (10.58, -10.94), (10.64, -10.95), (10.70, -10.93),
    (10.76, -10.94), (10.82, -10.95), (10.88, -10.93), (10.94, -10.94), (11.00, -10.95), (11.06, -10.93),
    (10.43, -11.01), (10.49, -11.02), (10.55, -11.00), (10.61, -11.01), (10.67, -11.02), (10.73, -11.00),
    (10.79, -11.01), (10.85, -11.02), (10.91, -11.00), (10.97, -11.01), (11.03, -11.02), (11.09, -11.00),
    (10.46, -11.08), (10.52, -11.09), (10.58, -11.07), (10.64, -11.08), (10.70, -11.09), (10.76, -11.07),
    (10.82, -11.08), (10.88, -11.09), (10.94, -11.07), (11.00, -11.08), (11.06, -11.09),
    (10.45, -11.15), (10.51, -11.16), (10.57, -11.14), (10.63, -11.15), (10.69, -11.16), (10.75, -11.14),
    (10.81, -11.15), (10.87, -11.16), (10.93, -11.14), (10.99, -11.15), (11.05, -11.16),
    (10.47, -11.22), (10.53, -11.23), (10.59, -11.21), (10.65, -11.22), (10.71, -11.23), (10.77, -11.21),
    (10.83, -11.22), (10.89, -11.23), (10.95, -11.21), (11.01, -11.22),
    (10.49, -11.29), (10.55, -11.30), (10.61, -11.28), (10.67, -11.29), (10.73, -11.30), (10.79, -11.28),
    (10.85, -11.29), (10.91, -11.30), (10.97, -11.28), (11.03, -11.29),
    (10.51, -11.36), (10.57, -11.37), (10.63, -11.35), (10.69, -11.36), (10.75, -11.37), (10.81, -11.35),
    (10.87, -11.36), (10.93, -11.37), (10.99, -11.35), (11.05, -11.36),
    (10.47, -11.43), (10.53, -11.44), (10.59, -11.42), (10.65, -11.43), (10.71, -11.44), (10.77, -11.42),
    (10.83, -11.43), (10.89, -11.44), (10.95, -11.42), (11.01, -11.43),
]

gal_lower = [
    (10.22, -11.59), (10.29, -11.62), (10.34, -11.58), (10.41, -11.61), (10.46, -11.60), (10.52, -11.63),
    (10.58, -11.57), (10.64, -11.61), (10.69, -11.59), (10.76, -11.62), (10.81, -11.58), (10.87, -11.60),
    (10.93, -11.63), (10.99, -11.59), (11.06, -11.61), (11.13, -11.58),
    (10.20, -11.68), (10.27, -11.65), (10.32, -11.69), (10.38, -11.66), (10.44, -11.67), (10.49, -11.70),
    (10.55, -11.64), (10.61, -11.68), (10.67, -11.66), (10.73, -11.69), (10.78, -11.65), (10.84, -11.67),
    (10.90, -11.70), (10.96, -11.66), (11.03, -11.68), (11.10, -11.65),
    (10.21, -11.75), (10.28, -11.72), (10.35, -11.76), (10.41, -11.73), (10.47, -11.74), (10.53, -11.77),
    (10.58, -11.71), (10.65, -11.75), (10.71, -11.73), (10.77, -11.76), (10.83, -11.72), (10.89, -11.74),
    (10.95, -11.77), (11.02, -11.73), (11.09, -11.75),
    (10.18, -11.82), (10.25, -11.79), (10.31, -11.83), (10.38, -11.80), (10.44, -11.81), (10.50, -11.84),
    (10.56, -11.78), (10.62, -11.82), (10.68, -11.80), (10.74, -11.83), (10.80, -11.79), (10.86, -11.81),
    (10.93, -11.84), (10.99, -11.80), (11.06, -11.82), (11.12, -11.79),
    (10.16, -11.89), (10.23, -11.86), (10.30, -11.90), (10.36, -11.87), (10.43, -11.88), (10.49, -11.91),
    (10.55, -11.85), (10.61, -11.89), (10.67, -11.87), (10.73, -11.90), (10.79, -11.86), (10.85, -11.88),
    (10.92, -11.91), (10.98, -11.87), (11.05, -11.89),
    (10.15, -11.96), (10.22, -11.93), (10.29, -11.97), (10.36, -11.94), (10.43, -11.95), (10.50, -11.98),
    (10.57, -11.92), (10.64, -11.96), (10.71, -11.94), (10.78, -11.97), (10.85, -11.93), (10.92, -11.95),
    (10.99, -11.98), (11.07, -11.94),
    (10.14, -12.03), (10.21, -12.00), (10.28, -12.04), (10.35, -12.01), (10.42, -12.02), (10.49, -12.05),
    (10.56, -11.99), (10.63, -12.03), (10.70, -12.01), (10.77, -12.04), (10.84, -12.00), (10.91, -12.02),
    (10.98, -12.05), (11.05, -12.01),
    (10.18, -12.10), (10.25, -12.07), (10.32, -12.11), (10.39, -12.08), (10.46, -12.09), (10.53, -12.12),
    (10.60, -12.06), (10.67, -12.10), (10.74, -12.08), (10.81, -12.11), (10.88, -12.07), (10.95, -12.09),
    (11.02, -12.12),
    (10.15, -12.17), (10.23, -12.14), (10.30, -12.18), (10.37, -12.15), (10.44, -12.16), (10.51, -12.19),
    (10.58, -12.13), (10.65, -12.17), (10.72, -12.15), (10.79, -12.18), (10.86, -12.14), (10.93, -12.16),
    (11.00, -12.19),
    (10.20, -12.24), (10.28, -12.21), (10.35, -12.25), (10.43, -12.22), (10.50, -12.23), (10.57, -12.26),
    (10.64, -12.20), (10.71, -12.24), (10.78, -12.22), (10.85, -12.25), (10.92, -12.21), (10.99, -12.23),
    (11.05, -12.26),
    (10.18, -12.31), (10.26, -12.28), (10.33, -12.32), (10.41, -12.29), (10.48, -12.30), (10.55, -12.33),
    (10.62, -12.27), (10.69, -12.31), (10.76, -12.29), (10.84, -12.32), (10.91, -12.28), (10.98, -12.30),
    (10.22, -12.39), (10.30, -12.36), (10.38, -12.40), (10.46, -12.37), (10.54, -12.38), (10.62, -12.41),
    (10.70, -12.35), (10.78, -12.39), (10.86, -12.37), (10.94, -12.40), (11.02, -12.36),
    (10.20, -12.47), (10.28, -12.44), (10.36, -12.48), (10.44, -12.45), (10.52, -12.46), (10.60, -12.49),
    (10.68, -12.43), (10.76, -12.47), (10.84, -12.45), (10.92, -12.48), (10.99, -12.44),
    (10.25, -12.55), (10.34, -12.52), (10.42, -12.56), (10.50, -12.53), (10.58, -12.54), (10.67, -12.57),
    (10.75, -12.51), (10.83, -12.55), (10.91, -12.53), (11.00, -12.56),
    (10.28, -12.63), (10.37, -12.60), (10.46, -12.64), (10.55, -12.61), (10.64, -12.62), (10.73, -12.65),
    (10.82, -12.59), (10.90, -12.63),
    (10.30, -12.71), (10.41, -12.68), (10.51, -12.72), (10.61, -12.69), (10.71, -12.70), (10.81, -12.73),
    (10.92, -12.68),
    (10.33, -12.79), (10.45, -12.76), (10.56, -12.80), (10.67, -12.77), (10.78, -12.78), (10.89, -12.81),
    (10.36, -12.87), (10.49, -12.84), (10.60, -12.88), (10.72, -12.85), (10.84, -12.86),
    (10.42, -12.95), (10.57, -12.92), (10.70, -12.96), (10.86, -12.93),
]

gal_lower_fill = [
    (10.42, -11.64), (10.50, -11.63), (10.58, -11.65), (10.66, -11.64), (10.74, -11.63), (10.82, -11.65),
    (10.90, -11.64), (10.98, -11.63),
    (10.40, -11.71), (10.48, -11.70), (10.56, -11.72), (10.64, -11.71), (10.72, -11.70), (10.80, -11.72),
    (10.88, -11.71), (10.96, -11.70),
    (10.43, -11.78), (10.51, -11.77), (10.59, -11.79), (10.67, -11.78), (10.75, -11.77), (10.83, -11.79),
    (10.91, -11.78), (10.99, -11.77),
    (10.41, -11.85), (10.49, -11.84), (10.57, -11.86), (10.65, -11.85), (10.73, -11.84), (10.81, -11.86),
    (10.89, -11.85), (10.97, -11.84),
    (10.46, -11.92), (10.54, -11.91), (10.62, -11.93), (10.70, -11.92), (10.78, -11.91), (10.86, -11.93),
    (10.94, -11.92),
    (10.46, -11.99), (10.53, -11.98), (10.60, -12.00), (10.67, -11.99), (10.74, -11.98), (10.81, -12.00),
    (10.88, -11.99), (10.95, -11.98),
    (10.43, -12.06), (10.50, -12.05), (10.57, -12.07), (10.64, -12.06), (10.71, -12.05), (10.78, -12.07),
    (10.85, -12.06), (10.92, -12.05),
    (10.41, -12.13), (10.48, -12.12), (10.55, -12.14), (10.62, -12.13), (10.69, -12.12), (10.76, -12.14),
    (10.83, -12.13), (10.90, -12.12),
    (10.47, -12.20), (10.54, -12.19), (10.61, -12.21), (10.68, -12.20), (10.75, -12.19), (10.82, -12.21),
    (10.89, -12.20),
    (10.45, -12.27), (10.52, -12.26), (10.59, -12.28), (10.66, -12.27), (10.73, -12.26), (10.80, -12.28),
    (10.87, -12.27),
    (10.50, -12.34), (10.58, -12.33), (10.66, -12.35), (10.74, -12.34), (10.82, -12.33), (10.90, -12.35),
]

gal_left = [
    (8.67, -9.35), (8.67, -9.44), (8.67, -9.56), (8.77, -9.25), (8.79, -9.60), (8.85, -9.75),
    (8.98, -9.84), (8.80, -9.94), (8.76, -10.02), (8.89, -10.17), (8.83, -10.38), (8.97, -10.47),
    (9.11, -10.08), (9.14, -10.64), (9.17, -10.83), (9.04, -10.17), (9.00, -10.23), (9.06, -10.36),
    (9.15, -10.50), (9.24, -10.10), (9.13, -9.84), (9.07, -9.91), (9.29, -10.29), (9.32, -10.35),
    (9.30, -10.47), (9.30, -10.54), (9.38, -10.32), (9.42, -10.33), (9.44, -10.44), (9.46, -10.59),
    (9.40, -10.60), (9.41, -10.89), (9.39, -10.72), (9.58, -10.72), (9.61, -10.73), (9.71, -10.73),
    (9.65, -10.86), (9.54, -10.45), (9.61, -10.51), (9.65, -10.54), (9.80, -10.76), (9.50, -10.56),
    (9.10, -10.55), (9.30, -10.81), (9.33, -10.96), (9.38, -10.87), (9.44, -10.84), (9.36, -10.54),
    (9.14, -11.15), (9.18, -11.17), (9.50, -11.06), (9.44, -11.21), (9.36, -11.36), (9.48, -11.35),
    (9.40, -11.49), (9.29, -11.57), (9.57, -11.55), (9.55, -11.67), (9.63, -11.75), (9.67, -11.62),
    (9.67, -11.71), (9.68, -11.79), (9.74, -11.73), (9.79, -11.55), (9.49, -11.93), (9.42, -12.12),
    (9.47, -12.19), (9.71, -12.22), (9.72, -11.93), (9.75, -11.98), (9.67, -12.05), (9.76, -12.09),
    (9.80, -12.12), (9.83, -12.12), (9.88, -12.24), (9.59, -12.59), (9.63, -12.56), (9.67, -12.51),
    (9.74, -12.53), (9.78, -12.49), (9.86, -12.69), (9.90, -12.69), (9.48, -12.74), (9.44, -12.82),
    (9.55, -12.82), (9.50, -12.98), (9.34, -13.05), (9.79, -12.86), (9.76, -12.92), (9.86, -12.92),
    (9.82, -13.00), (9.79, -13.13), (9.94, -13.09), (9.99, -13.25), (9.67, -13.35), (9.56, -13.47),
    (9.96, -13.59), (9.92, -12.47), (9.96, -12.46), (9.88, -12.59),
    (9.36, -10.12), (9.49, -10.10), (9.58, -10.15), (9.66, -10.11), (9.74, -10.14), (9.81, -10.10),
    (9.89, -10.13), (9.95, -10.16), (9.44, -10.21), (9.55, -10.24), (9.63, -10.19), (9.71, -10.23),
    (9.79, -10.20), (9.86, -10.25), (9.93, -10.21), (9.52, -10.31), (9.61, -10.28), (9.69, -10.33),
    (9.77, -10.29), (9.84, -10.32), (9.91, -10.28), (9.97, -10.31), (9.58, -10.40), (9.67, -10.37),
    (9.75, -10.42), (9.82, -10.38), (9.89, -10.41), (9.96, -10.45), (9.64, -10.50), (9.72, -10.47),
    (9.80, -10.52), (9.87, -10.49), (9.93, -10.53), (9.70, -10.60), (9.78, -10.57), (9.86, -10.62),
    (9.93, -10.59), (10.01, -10.63), (9.74, -10.69), (9.82, -10.72), (9.90, -10.67), (9.97, -10.71),
    (10.04, -10.74), (9.79, -10.80), (9.87, -10.77), (9.95, -10.82), (10.02, -10.79), (10.09, -10.83),
    (9.83, -10.90), (9.91, -10.87), (9.99, -10.92), (10.06, -10.88), (10.13, -10.91), (9.86, -10.99),
    (9.94, -11.02), (10.02, -10.97), (10.09, -11.01), (10.16, -10.98), (9.90, -11.10), (9.98, -11.07),
    (10.06, -11.11), (10.13, -11.08), (10.20, -11.12), (9.93, -11.19), (10.01, -11.22), (10.09, -11.18),
    (10.16, -11.21), (10.23, -11.17), (9.96, -11.30), (10.04, -11.27), (10.12, -11.31), (10.19, -11.28),
    (10.26, -11.32), (9.99, -11.39), (10.07, -11.42), (10.15, -11.38), (10.22, -11.41), (10.30, -11.37),
    (10.02, -11.50), (10.10, -11.47), (10.18, -11.51), (10.25, -11.48), (10.32, -11.52), (10.05, -11.59),
    (10.13, -11.62), (10.04, -11.70), (10.12, -11.73), (10.08, -11.82), (9.99, -11.86), (10.06, -11.93),
    (10.02, -12.03), (10.09, -12.12), (10.04, -12.21), (10.11, -12.30), (10.07, -12.41), (10.14, -12.52),
    (10.10, -12.60), (10.18, -12.68), (10.21, -12.80), (10.15, -12.88), (10.02, -12.76), (10.10, -12.73),
    (10.12, -12.87), (10.20, -12.82), (10.05, -13.06), (10.09, -13.05), (10.13, -13.09), (9.99, -13.03),
]

gal_right = [
    (11.12, -9.72), (11.18, -9.77), (11.13, -9.72), (11.19, -9.78), (11.14, -9.82), (11.14, -9.90),
    (11.20, -9.91), (11.27, -10.00), (11.32, -10.10), (11.37, -10.16), (11.46, -10.10), (11.24, -10.18),
    (11.28, -10.15), (11.18, -10.25), (11.23, -10.33), (11.35, -10.38), (11.41, -10.42), (11.33, -10.45),
    (11.21, -10.54), (11.39, -10.56), (11.41, -10.59), (11.24, -10.68), (11.29, -10.78), (11.40, -10.78),
    (11.18, -10.87), (11.32, -10.94), (11.26, -11.05), (11.17, -11.16), (11.27, -11.28), (11.40, -11.37),
    (11.43, -11.37), (11.40, -11.50), (11.32, -11.47), (11.36, -11.47), (11.27, -11.47), (11.23, -11.42),
    (11.20, -11.59), (11.23, -11.63), (11.28, -11.56), (11.37, -11.66), (11.37, -11.75), (11.43, -11.73),
    (11.25, -11.73), (11.69, -10.76), (11.50, -10.93), (11.67, -10.94), (11.35, -10.93), (11.32, -11.00),
    (11.55, -11.15), (11.50, -11.19), (11.42, -11.29), (11.45, -11.29), (11.47, -11.38), (11.52, -11.43),
    (11.56, -11.43), (11.70, -11.56), (11.80, -11.71), (11.56, -11.71), (11.51, -11.75), (11.41, -11.65),
    (11.46, -11.61), (11.75, -12.00), (11.60, -12.13), (11.57, -12.25), (11.50, -12.25), (11.45, -12.03),
    (11.41, -11.88), (11.45, -11.87), (11.36, -12.04), (11.47, -12.13), (11.43, -12.19), (11.54, -12.31),
    (11.35, -11.86), (11.32, -11.94), (11.31, -11.99), (11.39, -12.38), (11.43, -12.40), (11.31, -11.86),
    (11.45, -11.78), (11.27, -12.00), (11.31, -12.13), (11.25, -12.22), (11.30, -12.25), (11.38, -12.35),
    (11.35, -12.40), (11.27, -12.40), (11.22, -12.40), (11.26, -12.54), (11.31, -12.53), (11.35, -12.54),
    (11.40, -12.62), (11.29, -12.62), (11.20, -12.68), (11.23, -12.75), (11.30, -12.68), (11.33, -12.81),
    (11.32, -12.93), (11.27, -12.84), (11.17, -12.74), (11.14, -12.87), (11.47, -12.59), (11.61, -13.04),
    (11.75, -13.04), (11.55, -12.26), (11.63, -12.50), (11.76, -12.58), (11.62, -12.69), (11.42, -12.83),
    (11.74, -13.03), (11.65, -10.94), (11.10, -11.36), (11.16, -11.52),
]

gal_bottom = [
    (10.85, -13.01), (11.18, -13.04), (11.24, -13.04), (11.26, -13.05), (11.26, -13.12), (11.06, -13.10),
    (11.11, -13.16), (11.04, -13.16), (10.89, -13.15), (10.93, -13.16), (10.79, -13.18), (10.74, -13.10),
    (10.67, -13.16), (10.71, -13.16), (10.62, -13.19), (10.59, -13.09), (10.13, -13.09), (10.20, -13.01),
    (10.26, -13.06), (10.29, -13.13), (10.32, -12.94), (10.43, -12.99), (10.46, -13.06), (10.39, -13.05),
    (10.39, -13.10), (10.53, -13.16), (10.62, -13.01), (10.12, -13.34),
    (10.34, -13.25), (10.48, -13.25), (10.36, -13.34), (10.48, -13.34), (10.68, -13.25), (10.76, -13.25),
    (10.84, -13.25), (10.91, -13.25), (10.98, -13.26), (11.29, -13.29), (10.90, -13.37), (11.04, -13.37),
    (11.11, -13.43), (10.72, -13.43), (10.72, -13.47), (10.43, -13.47), (10.24, -13.55), (10.79, -13.56),
    (10.76, -13.61), (10.70, -13.63), (10.90, -13.63), (10.94, -13.63), (11.02, -13.58), (11.10, -13.63),
    (11.18, -13.58), (11.22, -13.58), (11.20, -13.63), (11.32, -13.64), (11.37, -13.58), (10.28, -13.79),
    (10.37, -13.79), (10.83, -13.79), (10.86, -13.79), (10.85, -13.84), (10.94, -13.79), (11.25, -13.79),
    (11.34, -13.79), (10.53, -13.89), (10.90, -13.89), (11.02, -13.89), (11.06, -13.89), (11.18, -13.89),
    (11.37, -13.89), (10.11, -13.76), (10.15, -13.76),
]

gal = np.array(gal_outliers + gal_halo + gal_band + gal_band_fill + gal_core + gal_core_fill
               + gal_lower + gal_lower_fill + gal_left + gal_right + gal_bottom)

fig = plt.figure(figsize=(16.2, 10.01), dpi=100, facecolor="#ffff00")
ax = fig.add_axes([0.0844, 0.0886, 0.92, 0.9024])

ax.scatter(gal[:, 0], gal[:, 1], s=32, c="gray", alpha=0.5,
           label="comparison galaxy neighbors")
ax.scatter(qso_mass, qso_ssfr, s=140, c="red", edgecolors="#3d1a78",
           linewidths=1.5, label="quasar neighbors", zorder=3)

ax.set_xlim(6.279, 12.33)
ax.set_ylim(-14.154, -7.702)
ax.xaxis.set_minor_locator(MultipleLocator(0.2))
ax.yaxis.set_minor_locator(MultipleLocator(0.2))
ax.tick_params(which="major", length=9, width=1.5, labelsize=17, pad=5)
ax.tick_params(which="minor", length=6, width=1.0)
for side in ("top", "right", "left", "bottom"):
    ax.spines[side].set_color("0.35")
    ax.spines[side].set_linewidth(1.2)

ax.set_xlabel(r"log [$M_*/M_\odot$]", fontsize=23, labelpad=6)
ax.set_ylabel(r"log ( sSFR [$yr^{-1}$])", fontsize=23, labelpad=8)
ax.legend(loc="lower left", fontsize=21.5, scatterpoints=3, scatteryoffsets=[0.5],
          handlelength=2.0, handletextpad=0.8)

fig.savefig("out.png", dpi=100, facecolor=fig.get_facecolor())
